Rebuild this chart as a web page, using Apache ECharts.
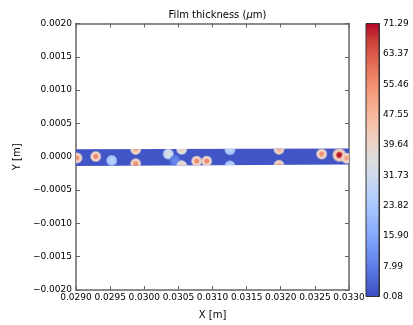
<!DOCTYPE html>
<html><head><meta charset="utf-8">
<script src="https://cdn.jsdelivr.net/npm/echarts@6/dist/echarts.min.js"></script>
<style>html,body{margin:0;padding:0;background:#fff}#c{width:413px;height:325px}</style>
</head><body><div id="c"></div>
<script>
// ---- data ----
const xTickLabels = ['0.0290','0.0295','0.0300','0.0305','0.0310','0.0315','0.0320','0.0325','0.0330'];
const yTickLabels = ['\u22120.0020','\u22120.0015','\u22120.0010','\u22120.0005','0.0000','0.0005','0.0010','0.0015','0.0020'];
const colorbarTicks = ['0.08','7.99','15.90','23.82','31.73','39.64','47.55','55.46','63.37','71.29'];
const valueMin = 0.08, valueMax = 71.29;
const xRange = [0.0290, 0.0330];
const yRange = [-0.0020, 0.0020];
const tickStep = 0.0005;
// film strip outline (left / right ends)
const stripX = [0.0290, 0.0330];
const stripTop = [0.000112, 0.000125];
const stripBottom = [-0.000138, -0.000118];
const stripValue = 1.5;
// thickness spots
const spotX    = [0.029015, 0.029289, 0.029523, 0.029875, 0.029875, 0.030352, 0.030451, 0.030549, 0.030549, 0.030768, 0.030915, 0.031256, 0.031256, 0.031974, 0.031974, 0.032600, 0.032858, 0.032966];
const spotY    = [-0.000018, 0.000003, -0.000056, 0.000110, -0.000105, 0.000041, -0.000056, 0.000112, -0.000135, -0.000066, -0.000066, 0.000105, -0.000138, 0.000112, -0.000128, 0.000041, 0.000026, -0.000022];
const spotPeak = [55, 58, 27, 50, 56, 35, 10, 42, 42, 57, 57, 28, 28, 50, 50, 56, 71, 52];
const spotHalo = [40, 40, 24, 40, 40, 30, 8, 36, 36, 40, 40, 24, 24, 40, 40, 40, 42, 40];

// ---- coolwarm colormap ----
const CW = [[59,76,192],[77,104,215],[98,130,234],[119,154,247],[141,176,254],[163,194,255],[184,208,249],[204,217,238],[221,221,221],[236,211,197],[245,196,173],[247,177,148],[244,154,123],[236,127,99],[222,96,77],[203,62,56],[180,4,38]];
function cmapRGB(v){
  let t = (v - valueMin) / (valueMax - valueMin);
  t = Math.max(0, Math.min(1, t));
  const f = t * (CW.length - 1), i = Math.min(CW.length - 2, Math.floor(f)), u = f - i;
  return CW[i].map((c, k) => Math.round(c + (CW[i+1][k] - c) * u));
}
function cmap(v, a){ const c = cmapRGB(v); return a === undefined ? `rgb(${c})` : `rgba(${c},${a})`; }

const spotData = spotX.map((x, i) => [x, spotY[i], spotPeak[i], spotHalo[i]]);
const FONT = 'DejaVu Sans';
const axisColor = '#666';

function stripPoly(api){
  return [api.coord([stripX[0], stripTop[0]]), api.coord([stripX[1], stripTop[1]]),
          api.coord([stripX[1], stripBottom[1]]), api.coord([stripX[0], stripBottom[0]])];
}
function idx(v, min){ return Math.round((v - min) / tickStep); }

const mainAxisCommon = {
  type: 'value', splitLine: {show: false},
  axisLine: {onZero: false, lineStyle: {color: axisColor, width: 1.5}},
  axisTick: {inside: true, length: 4, lineStyle: {color: axisColor, width: 1}},
};

const chart = echarts.init(document.getElementById('c'), null, {renderer: 'canvas'});
chart.setOption({
  animation: false,
  backgroundColor: '#fff',
  title: {
    text: 'Film thickness ({i|\u03bc}m)', left: 212.5, top: 5, textAlign: 'center',
    textStyle: {fontSize: 10, fontWeight: 'normal', color: '#000', fontFamily: FONT,
      rich: {i: {fontStyle: 'italic', fontSize: 10, color: '#000', fontFamily: FONT}}}
  },
  grid: [
    {left: 76, top: 23.5, width: 273, height: 273},
    {left: 366, top: 23.5, width: 13, height: 273}
  ],
  xAxis: [
    Object.assign({}, mainAxisCommon, {gridIndex: 0, position: 'bottom', min: xRange[0], max: xRange[1], interval: tickStep,
      axisLabel: {fontSize: 9, color: '#000', fontFamily: FONT, margin: 3, formatter: v => xTickLabels[idx(v, xRange[0])]},
      name: 'X [m]', nameLocation: 'middle', nameGap: 20, nameTextStyle: {fontSize: 10, color: '#000', fontFamily: FONT}}),
    Object.assign({}, mainAxisCommon, {gridIndex: 0, position: 'top', min: xRange[0], max: xRange[1], interval: tickStep, axisLabel: {show: false}}),
    {gridIndex: 1, type: 'value', min: 0, max: 1, show: false}
  ],
  yAxis: [
    Object.assign({}, mainAxisCommon, {gridIndex: 0, position: 'left', min: yRange[0], max: yRange[1], interval: tickStep,
      axisLabel: {fontSize: 9, color: '#000', fontFamily: FONT, margin: 4, formatter: v => yTickLabels[idx(v, yRange[0])]},
      name: 'Y [m]', nameLocation: 'middle', nameGap: 50, nameRotate: 90, nameTextStyle: {fontSize: 10, color: '#000', fontFamily: FONT}}),
    Object.assign({}, mainAxisCommon, {gridIndex: 0, position: 'right', min: yRange[0], max: yRange[1], interval: tickStep, axisLabel: {show: false}}),
    {gridIndex: 1, type: 'value', position: 'right', min: 0, max: colorbarTicks.length - 1, interval: 1,
      splitLine: {show: false},
      axisLine: {show: true, onZero: false, lineStyle: {color: '#333'}},
      axisTick: {show: true, inside: true, length: 3, lineStyle: {color: '#333'}},
      axisLabel: {fontSize: 9, color: '#000', fontFamily: FONT, margin: 4, formatter: v => colorbarTicks[Math.round(v)]}}
  ],
  series: [
    {
      type: 'custom', xAxisIndex: 0, yAxisIndex: 0, clip: true, z: 1,
      data: [[stripX[0], stripTop[0], stripBottom[0], stripX[1], stripTop[1], stripBottom[1]]],
      encode: {x: [0, 3], y: [1, 2, 4, 5]},
      renderItem: (params, api) => ({type: 'polygon', shape: {points: stripPoly(api)}, style: {fill: cmap(stripValue)}})
    },
    {
      type: 'custom', xAxisIndex: 0, yAxisIndex: 0, clip: true, z: 2,
      data: spotData, encode: {x: 0, y: 1},
      renderItem: (params, api) => {
        const c = api.coord([api.value(0), api.value(1)]);
        const peak = api.value(2), halo = api.value(3);
        const r = 6 + Math.max(0, peak - 60) / 7;
        const grad = new echarts.graphic.RadialGradient(0.5, 0.5, 0.5, [
          {offset: 0, color: cmap(peak)},
          {offset: 0.32, color: cmap(peak * 0.9 + halo * 0.1)},
          {offset: 0.5, color: cmap(halo)},
          {offset: 0.72, color: cmap(halo)},
          {offset: 0.88, color: cmap(halo, 0.5)},
          {offset: 1, color: cmap(halo, 0)}
        ]);
        return {type: 'group', clipPath: {type: 'polygon', shape: {points: stripPoly(api)}},
          children: [{type: 'circle', shape: {cx: c[0], cy: c[1], r: r}, style: {fill: grad}}]};
      }
    },
    {
      type: 'custom', xAxisIndex: 2, yAxisIndex: 2, z: 1,
      data: [[0, 0, 1, colorbarTicks.length - 1]], encode: {x: [0, 2], y: [1, 3]},
      renderItem: (params, api) => {
        const p0 = api.coord([api.value(0), api.value(1)]);
        const p1 = api.coord([api.value(2), api.value(3)]);
        const stops = CW.map((c, i) => ({offset: i / (CW.length - 1), color: `rgb(${c})`}));
        return {type: 'rect', shape: {x: p0[0], y: p1[1], width: p1[0] - p0[0], height: p0[1] - p1[1]},
          style: {fill: new echarts.graphic.LinearGradient(0, 1, 0, 0, stops), stroke: '#333', lineWidth: 1}};
      }
    }
  ]
});
</script></body></html>
